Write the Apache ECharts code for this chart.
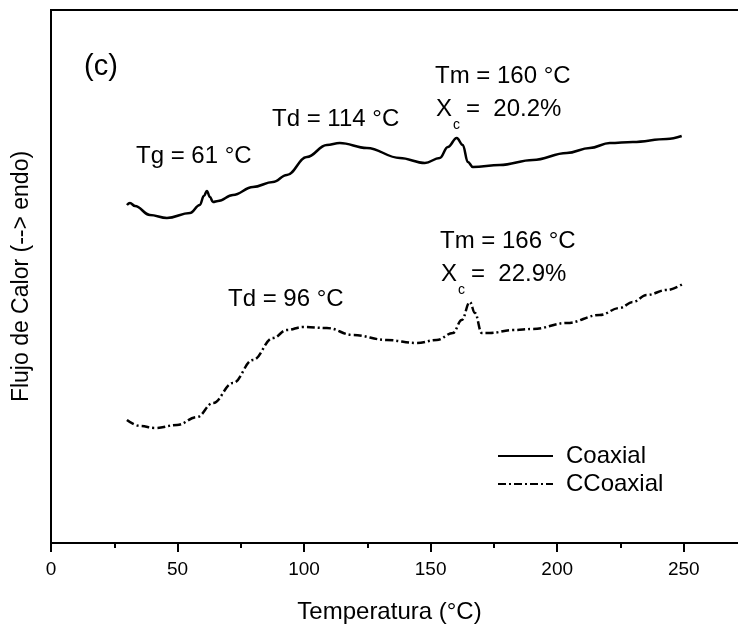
<!DOCTYPE html>
<html>
<head>
<meta charset="utf-8">
<script src="https://cdn.jsdelivr.net/npm/echarts@6/dist/echarts.min.js"></script>
<style>html,body{margin:0;padding:0;background:#fff;}#c{width:738px;height:627px;}</style>
</head>
<body>
<div id="c"></div>
<script>
// Temperature (°C) and heat flow (arbitrary units, endo up)
var tempCoaxial = [30.0,31.2,33.2,39.1,45.8,54.9,58.8,60.4,61.6,62.8,64.0,66.0,71.9,79.8,87.7,93.2,101.1,109.0,114.1,124.8,137.8,147.7,153.6,156.8,160.3,162.7,164.7,166.7,177.3,190.4,203.8,212.9,220.8,229.9,243.3,249.2];
var flowCoaxial = [338,340,337,328,325,330,338,347,352,346,341,342,348,356,361,368,386,398,400,395,385,380,385,396,405,398,381,376,378,383,390,395,400,401,404,407];

var tempCCoaxial = [30.0,35.2,41.1,49.8,57.7,64.0,71.9,79.8,87.7,93.2,99.5,109.0,119.3,132.7,144.5,152.4,158.8,162.3,165.5,167.5,170.2,173.4,182.5,190.4,203.8,216.8,224.7,229.9,235.4,243.3,249.6];
var flowCCoaxial = [123,117,115,118,126,140,160,183,205,213,216,215,208,203,200,203,210,223,241,230,210,210,213,214,220,228,235,241,248,253,259];

var seriesNames = ['Coaxial','CCoaxial'];
var xTickValues = [0,50,100,150,200,250];

var FONT = '"Liberation Sans", Arial, Helvetica, sans-serif';

function pairs(xs, ys){ var out=[]; for(var i=0;i<xs.length;i++){ out.push([xs[i], ys[i]]); } return out; }

var chart = echarts.init(document.getElementById('c'), null, {renderer:'canvas'});

function txt(x, y, s, size){
  return {type:'text', x:x, y:y, style:{text:s, x:0, y:0, fill:'#000', font: (size||24)+'px '+FONT, textAlign:'left', textVerticalAlign:'middle'}};
}

var option = {
  animation:false,
  backgroundColor:'#fff',
  grid:{left:51, top:10, width:696, bottom:84, show:true, borderColor:'#000', borderWidth:2, backgroundColor:'transparent', outerBoundsMode:'none', containLabel:false},
  xAxis:[{
    // bottom axis: minor ticks every 25, labels every 50
    type:'value', min:0, max:275, interval:25,
    name:'Temperatura (°C)', nameLocation:'middle', nameGap:57,
    nameTextStyle:{color:'#000', fontSize:24, fontFamily:FONT, padding:[0,19,0,0]},
    axisLine:{show:true, onZero:false, lineStyle:{color:'#000', width:2}},
    axisTick:{show:true, inside:false, length:5, lineStyle:{color:'#000', width:2}},
    splitLine:{show:false},
    axisLabel:{color:'#000', fontSize:19, fontFamily:FONT, margin:17, showMaxLabel:false,
      formatter:function(v){ return xTickValues.indexOf(v)>=0 ? String(v) : ''; }}
  },{
    // same axis drawn again for the longer major ticks every 50
    type:'value', min:0, max:275, interval:50, position:'top', offset:-533,
    axisLine:{show:false},
    axisTick:{show:true, inside:true, length:9, lineStyle:{color:'#000', width:2}},
    axisLabel:{show:false}, splitLine:{show:false}
  }],
  yAxis:{
    type:'value', min:0, max:533,
    name:'Flujo de Calor (--> endo)', nameLocation:'middle', nameGap:18,
    nameTextStyle:{color:'#000', fontSize:23, fontFamily:FONT},
    axisLine:{show:true, onZero:false, lineStyle:{color:'#000', width:2}},
    axisTick:{show:false}, axisLabel:{show:false}, splitLine:{show:false}
  },
  legend:{
    orient:'vertical', left:497, top:444, padding:0, itemWidth:55, itemHeight:14, itemGap:4,
    itemStyle:{opacity:0},
    textStyle:{color:'#000', fontSize:24, fontFamily:FONT, padding:[0,0,0,8]},
    data:seriesNames
  },
  series:[
    {name:seriesNames[0], type:'line', xAxisIndex:0, data:pairs(tempCoaxial, flowCoaxial), symbol:'none', smooth:0.4, smoothMonotone:'x',
     lineStyle:{color:'#000', width:2.5, type:'solid'}, itemStyle:{color:'#000'}},
    {name:seriesNames[1], type:'line', xAxisIndex:0, data:pairs(tempCCoaxial, flowCCoaxial), symbol:'none', smooth:0.4, smoothMonotone:'x',
     lineStyle:{color:'#000', width:2.5, type:[8,3,2,3]}, itemStyle:{color:'#000'}}
  ],
  graphic:[
    txt(84, 67, '(c)', 29),
    txt(136, 156.5, 'Tg = 61 °C'),
    txt(272, 119.5, 'Td = 114 °C'),
    txt(435, 76.5, 'Tm = 160 °C'),
    txt(436, 109.5, 'X'),
    txt(453, 125, 'c', 14),
    txt(466, 109.5, '=  20.2%'),
    txt(228, 299.5, 'Td = 96 °C'),
    txt(440, 241.5, 'Tm = 166 °C'),
    txt(441, 274.5, 'X'),
    txt(458, 290, 'c', 14),
    txt(471, 274.5, '=  22.9%')
  ]
};
chart.setOption(option);
</script>
</body>
</html>
